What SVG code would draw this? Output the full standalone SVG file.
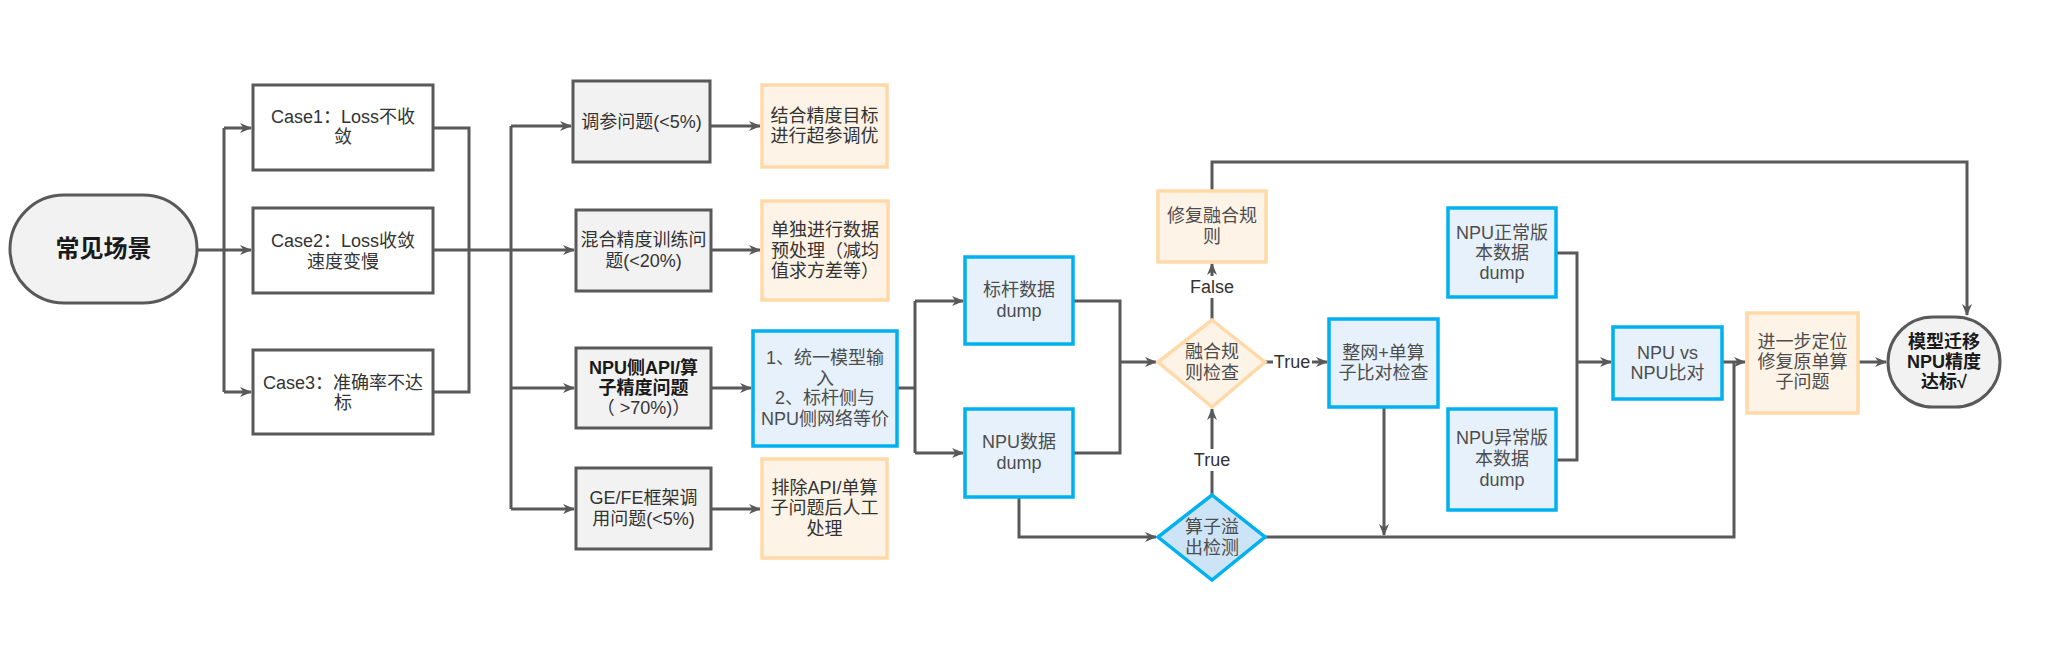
<svg xmlns="http://www.w3.org/2000/svg" width="2053" height="645" viewBox="0 0 2053 645">
<style>
.g{fill:#f2f2f2;stroke:#595959;stroke-width:3}
.w{fill:#fff;stroke:#595959;stroke-width:3}
.b{fill:#e7f1fb;stroke:#00b0f0;stroke-width:3.5}
.o{fill:#fdf3e6;stroke:#ffdaa8;stroke-width:3.5}
.bd{fill:#cde4f6;stroke:#00b0f0;stroke-width:3.5}
.c{fill:none;stroke:#595959;stroke-width:3}
.a{marker-end:url(#arr)}
.lb{fill:#fff;stroke:none}
text{font-family:"Liberation Sans","Noto Sans CJK SC",sans-serif;font-size:18px;text-anchor:middle;fill:#333}
.t2{fill:#4d4d4d}
.bold{font-weight:bold;fill:#1a1a1a}
</style>
<defs>
<marker id="arr" viewBox="0 0 12 12" refX="11" refY="6" markerWidth="12" markerHeight="12" markerUnits="userSpaceOnUse" orient="auto">
<path d="M0,1 L12,6 L0,11 L3.5,6 Z" fill="#595959"/>
</marker>
</defs>
<rect width="2053" height="645" fill="#fff"/>
<g id="connectors">
<path class="c" d="M197,250 H224 M224,128 V392"/>
<path class="c a" d="M224,128 H251"/>
<path class="c a" d="M224,250 H251"/>
<path class="c a" d="M224,392 H251"/>
<path class="c" d="M433,128 H469 V392 H433 M433,250 H511 M511,126 V509"/>
<path class="c a" d="M511,126 H571"/>
<path class="c a" d="M511,250 H574"/>
<path class="c a" d="M511,388 H574"/>
<path class="c a" d="M511,509 H574"/>
<path class="c a" d="M710,126 H760"/>
<path class="c a" d="M711,250 H760"/>
<path class="c a" d="M711,388 H751"/>
<path class="c a" d="M711,509 H760"/>
<path class="c" d="M897,388 H915 M915,301 V453"/>
<path class="c a" d="M915,301 H963"/>
<path class="c a" d="M915,453 H963"/>
<path class="c" d="M1073,301 H1120 V453 H1073"/>
<path class="c a" d="M1120,362 H1156"/>
<path class="c a" d="M1212,320 V264"/>
<path class="c a" d="M1212,191 V162 H1967 V315"/>
<path class="c a" d="M1265,362 H1327"/>
<path class="c a" d="M1212,495 V409"/>
<path class="c a" d="M1019,497 V537 H1156"/>
<path class="c" d="M1265,537 H1734 V362"/>
<path class="c a" d="M1384,407 V535"/>
<path class="c" d="M1556,253 H1577 V460 H1556"/>
<path class="c a" d="M1577,362 H1611"/>
<path class="c a" d="M1722,362 H1745"/>
<path class="c a" d="M1858,362 H1886"/>
<rect class="lb" x="1189" y="276" width="46" height="22"/>
<text x="1212" y="293">False</text>
<rect class="lb" x="1273" y="351" width="39" height="22"/>
<text x="1292" y="368">True</text>
<rect class="lb" x="1192" y="449" width="40" height="22"/>
<text x="1212" y="466">True</text>
</g>
<g id="start">
<rect class="g" x="10" y="195" width="187" height="108" rx="54"/>
<text class="bold" x="103.5" y="257" style="font-size:24px">常见场景</text>
</g>
<g id="case1">
<rect class="w" x="253" y="85" width="180" height="85"/>
<text x="343" y="123" fill="#1a1a1a">Case1：Loss不收</text>
<text x="343" y="143" fill="#1a1a1a">敛</text>
</g>
<g id="case2">
<rect class="w" x="253" y="208" width="180" height="85"/>
<text x="343" y="247">Case2：Loss收敛</text>
<text x="343" y="268">速度变慢</text>
</g>
<g id="case3">
<rect class="w" x="253" y="350" width="180" height="84"/>
<text x="343" y="389">Case3：准确率不达</text>
<text x="343" y="409">标</text>
</g>
<g id="tune">
<rect class="g" x="573" y="81" width="137" height="81"/>
<text x="641.5" y="128">调参问题(&lt;5%)</text>
</g>
<g id="tune-fix">
<rect class="o" x="762" y="85" width="125" height="82"/>
<text x="824.5" y="122">结合精度目标</text>
<text x="824.5" y="142">进行超参调优</text>
</g>
<g id="mixed">
<rect class="g" x="576" y="210" width="135" height="81"/>
<text x="643.5" y="246">混合精度训练问</text>
<text x="643.5" y="267">题(&lt;20%)</text>
</g>
<g id="mixed-fix">
<rect class="o" x="762" y="201" width="126" height="99"/>
<text x="825" y="236">单独进行数据</text>
<text x="825" y="257">预处理（减均</text>
<text x="825" y="277">值求方差等）</text>
</g>
<g id="npu-api">
<rect class="g" x="576" y="348" width="135" height="80"/>
<text class="bold" x="643.5" y="374">NPU侧API/算</text>
<text class="bold" x="643.5" y="394">子精度问题</text>
<text x="643.5" y="414">（ &gt;70%)）</text>
</g>
<g id="unify">
<rect class="b" x="753" y="331" width="144" height="115"/>
<text class="t2" x="825" y="364">1、统一模型输</text>
<text class="t2" x="825" y="385">入</text>
<text class="t2" x="825" y="404">2、标杆侧与</text>
<text class="t2" x="825" y="425">NPU侧网络等价</text>
</g>
<g id="gefe">
<rect class="g" x="576" y="468" width="135" height="81"/>
<text x="643.5" y="504">GE/FE框架调</text>
<text x="643.5" y="525">用问题(&lt;5%)</text>
</g>
<g id="gefe-fix">
<rect class="o" x="762" y="459" width="125" height="99"/>
<text x="824.5" y="494">排除API/单算</text>
<text x="824.5" y="514">子问题后人工</text>
<text x="824.5" y="535">处理</text>
</g>
<g id="bench-dump">
<rect class="b" x="965" y="257" width="108" height="87"/>
<text class="t2" x="1019" y="296">标杆数据</text>
<text class="t2" x="1019" y="317">dump</text>
</g>
<g id="npu-dump">
<rect class="b" x="965" y="409" width="108" height="88"/>
<text class="t2" x="1019" y="448">NPU数据</text>
<text class="t2" x="1019" y="469">dump</text>
</g>
<g id="fix-fusion">
<rect class="o" x="1158" y="191" width="108" height="71"/>
<text class="t2" x="1212" y="222">修复融合规</text>
<text class="t2" x="1212" y="243">则</text>
</g>
<g id="fusion-check">
<polygon class="o" points="1212,320 1265,362 1212,407 1158,362"/>
<text class="t2" x="1212" y="358">融合规</text>
<text class="t2" x="1212" y="379">则检查</text>
</g>
<g id="overflow-check">
<polygon class="bd" points="1212,495 1265,537 1212,580 1158,537"/>
<text class="t2" x="1212" y="533">算子溢</text>
<text class="t2" x="1212" y="554">出检测</text>
</g>
<g id="compare">
<rect class="b" x="1329" y="319" width="109" height="88"/>
<text class="t2" x="1383.5" y="359">整网+单算</text>
<text class="t2" x="1383.5" y="379">子比对检查</text>
</g>
<g id="npu-normal">
<rect class="b" x="1448" y="208" width="108" height="89"/>
<text class="t2" x="1502" y="239">NPU正常版</text>
<text class="t2" x="1502" y="259">本数据</text>
<text class="t2" x="1502" y="279">dump</text>
</g>
<g id="npu-abnormal">
<rect class="b" x="1448" y="409" width="108" height="101"/>
<text class="t2" x="1502" y="444">NPU异常版</text>
<text class="t2" x="1502" y="465">本数据</text>
<text class="t2" x="1502" y="486">dump</text>
</g>
<g id="npu-vs-npu">
<rect class="b" x="1613" y="327" width="109" height="72"/>
<text class="t2" x="1667.5" y="359">NPU vs</text>
<text class="t2" x="1667.5" y="379">NPU比对</text>
</g>
<g id="locate">
<rect class="o" x="1747" y="313" width="111" height="100"/>
<text class="t2" x="1802.5" y="348">进一步定位</text>
<text class="t2" x="1802.5" y="368">修复原单算</text>
<text class="t2" x="1802.5" y="388">子问题</text>
</g>
<g id="end">
<rect class="g" x="1888" y="317" width="112" height="90" rx="45"/>
<text class="bold" x="1944" y="348">模型迁移</text>
<text class="bold" x="1944" y="368">NPU精度</text>
<text class="bold" x="1944" y="388">达标√</text>
</g>
</svg>
